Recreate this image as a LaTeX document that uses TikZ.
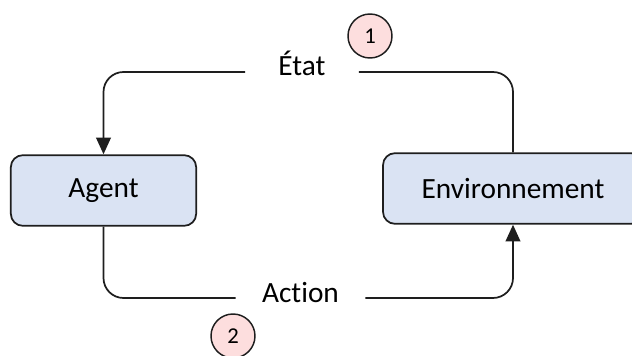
\documentclass[tikz,border=0pt]{standalone}
\usepackage{fontspec}
\setmainfont[Ligatures={NoCommon,NoRare}]{Carlito}
\usetikzlibrary{arrows.meta, positioning}
\definecolor{boxblue}{RGB}{218,227,243}
\definecolor{numpink}{RGB}{253,222,222}
\definecolor{linegray}{RGB}{30,30,30}

\begin{document}
\begin{tikzpicture}[
        x=0.75pt, y=-0.75pt,
        >={Triangle[length=12.5pt, width=11pt]},
        box/.style={draw=linegray, fill=boxblue, rounded corners=9pt, line width=1.3pt, minimum height=53pt, inner sep=0pt, font=\fontsize{22}{26}\selectfont},
        lbl/.style={inner ysep=0pt, text height=6pt, text depth=0pt, font=\fontsize{22}{26}\selectfont},
        num/.style={circle, draw=linegray, fill=numpink, line width=1.1pt, minimum size=33pt, inner sep=0pt, font=\fontsize{17}{19}\selectfont},
        edge/.style={draw=linegray, line width=1.3pt, rounded corners=15pt}
    ]
    \useasboundingbox (0,0) rectangle (632,356);
    % boîtes
    \path
        (103.5,190.5) node[box, minimum width=139pt] (agent) {Agent}
        (513,188.5)   node[box, minimum width=195pt] (env) {Environnement};

    % étiquettes et repères
    \path
        (302,72)    node[lbl, inner xsep=24.75pt] (etat) {État}
        (300.5,298) node[lbl, inner xsep=19.6pt] (action) {Action}
        (370,36)    node[num] (n1) {1}
        (233,336)   node[num] (n2) {2};

    % flux
    \draw[edge] (env.north) |- (etat.east);
    \draw[edge, ->] (etat.west) -| (agent.north);
    \draw[edge] (agent.south) |- (action.west);
    \draw[edge, ->] (action.east) -| (env.south);
\end{tikzpicture}
\end{document}
